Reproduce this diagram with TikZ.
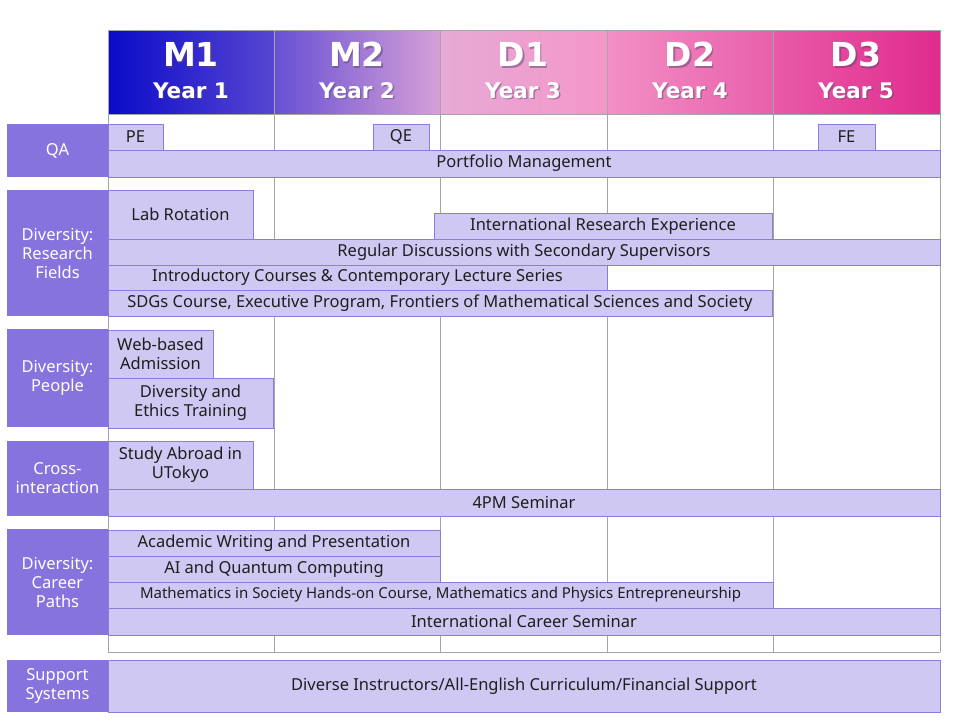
\documentclass[tikz,border=0pt]{standalone}
\usepackage{fontspec}
\setmainfont{Noto Sans}
\newfontfamily\hdrfont{DejaVu Sans}
\definecolor{labc}{RGB}{135,115,222}
\definecolor{boxc}{RGB}{207,200,243}
\definecolor{boxb}{RGB}{140,125,220}
\definecolor{gridc}{RGB}{165,165,165}
\definecolor{txtc}{RGB}{30,30,30}
\definecolor{shad}{RGB}{90,70,110}
\newcommand\tlbox[7][]{\node[#1,minimum width={(#5-#3)*1pt},minimum height={(#6-#4)*1pt}] (#2) at ({(#3+#5)/2},{(#4+#6)/2}) {#7};}
\tikzset{
  bx/.style={draw=boxb,fill=boxc,line width=0.9pt,inner sep=0pt,align=center,text=txtc,font=\fontsize{16.5}{19}\selectfont},
  lab/.style={fill=labc,draw=none,inner sep=0pt,align=center,text=white,font=\fontsize{16.5}{19}\selectfont},
  hcell/.style={draw=gridc,line width=0.8pt,inner sep=0pt},
  htop/.style={text=white,font=\hdrfont\bfseries\fontsize{33}{33}\selectfont,inner sep=0pt},
  hbot/.style={text=white,font=\hdrfont\bfseries\fontsize{21.5}{22}\selectfont,inner sep=0pt},
  hshad/.style={text=shad,opacity=0.5},
  gline/.style={draw=gridc,line width=0.9pt}
}
\begin{document}
\begin{tikzpicture}[x=1pt,y=-1pt]
\useasboundingbox (0,0) rectangle (960,720);
% header cells
\tlbox[hcell,left color={rgb,255:red,10;green,10;blue,200},right color={rgb,255:red,88;green,70;blue,210}]{hM1}{108}{30}{274}{114}{}
\tlbox[hcell,left color={rgb,255:red,104;green,80;blue,212},right color={rgb,255:red,214;green,160;blue,216}]{hM2}{274}{30}{440}{114}{}
\tlbox[hcell,left color={rgb,255:red,230;green,170;blue,214},right color={rgb,255:red,244;green,150;blue,200}]{hD1}{440}{30}{607}{114}{}
\tlbox[hcell,left color={rgb,255:red,242;green,144;blue,198},right color={rgb,255:red,232;green,96;blue,170}]{hD2}{607}{30}{773}{114}{}
\tlbox[hcell,left color={rgb,255:red,232;green,90;blue,168},right color={rgb,255:red,224;green,44;blue,140}]{hD3}{773}{30}{940}{114}{}
% header texts
\foreach \n/\cx/\a/\b in {M1/191/M1/Year 1,M2/357/M2/Year 2,D1/523/D1/Year 3,D2/690/D2/Year 4,D3/856/D3/Year 5}{
  \node[htop,hshad] (sa\n) at (\cx+1.5,56) {\a};
  \node[htop] (ta\n) at (\cx,54.5) {\a};
  \node[hbot,hshad] (sb\n) at (\cx+1.5,92) {\b};
  \node[hbot] (tb\n) at (\cx,90.5) {\b};
}
% grid
\foreach \gx in {108,274,440,607,773,940}{\draw[gline] (\gx,114) -- (\gx,652);}
\draw[gline] (108,652) -- (940,652);
% labels
\tlbox[lab]{lQA}{7}{124}{108}{177}{QA}
\tlbox[lab]{lRF}{7}{190}{108}{316}{Diversity:\\Research\\Fields}
\tlbox[lab]{lPe}{7}{329}{108}{427}{Diversity:\\People}
\tlbox[lab]{lCI}{7}{441}{108}{516}{Cross-\\interaction}
\tlbox[lab]{lCP}{7}{529}{108}{635}{Diversity:\\Career\\Paths}
\tlbox[lab]{lSS}{7}{660}{108}{712}{Support\\Systems}
% QA
\tlbox[bx]{pe}{108}{124}{163}{150}{PE}
\tlbox[bx]{qe}{373}{124}{429}{150}{QE}
\tlbox[bx]{fe}{818}{124}{875}{150}{FE}
\tlbox[bx]{pm}{108}{150}{940}{177}{Portfolio Management}
% research fields
\tlbox[bx]{lr}{108}{190}{253}{239}{Lab Rotation}
\tlbox[bx]{ire}{434}{213}{772}{239}{International Research Experience}
\tlbox[bx]{rd}{108}{239}{940}{265}{Regular Discussions with Secondary Supervisors}
\tlbox[bx]{ic}{108}{265}{607}{290}{Introductory Courses \& Contemporary Lecture Series}
\tlbox[bx]{sdg}{108}{290}{772}{316}{SDGs Course, Executive Program, Frontiers of Mathematical Sciences and Society}
% people
\tlbox[bx]{wa}{108}{330}{213}{378}{Web-based\\Admission}
\tlbox[bx]{de}{108}{378}{273}{428}{Diversity and\\Ethics Training}
% cross
\tlbox[bx]{sa}{108}{441}{253}{489}{Study Abroad in\\UTokyo}
\tlbox[bx]{pm4}{108}{489}{940}{516}{4PM Seminar}
% career
\tlbox[bx]{aw}{108}{530}{440}{556}{Academic Writing and Presentation}
\tlbox[bx]{ai}{108}{556}{440}{582}{AI and Quantum Computing}
\tlbox[bx,font=\fontsize{15}{17}\selectfont]{ms}{108}{582}{773}{608}{Mathematics in Society Hands-on Course, Mathematics and Physics Entrepreneurship}
\tlbox[bx]{ics}{108}{608}{940}{635}{International Career Seminar}
% support
\tlbox[bx]{ds}{108}{660}{940}{712}{Diverse Instructors/All-English Curriculum/Financial Support}
\end{tikzpicture}
\end{document}
